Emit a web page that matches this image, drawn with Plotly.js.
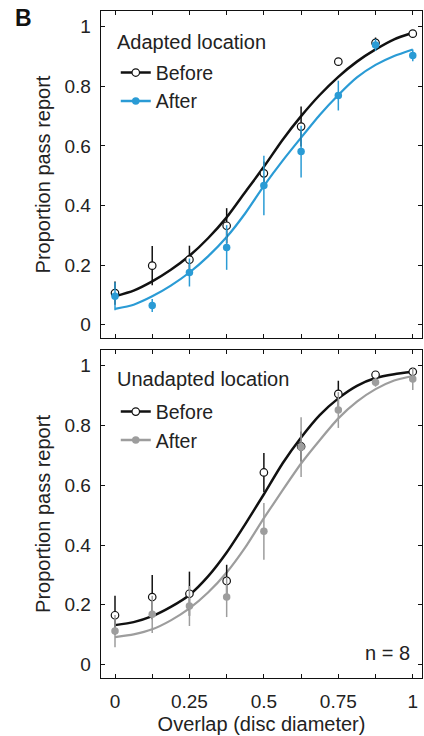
<!DOCTYPE html>
<html>
<head>
<meta charset="utf-8">
<script src="https://cdn.plot.ly/plotly-3.0.1.min.js"></script>
<style>html,body{margin:0;padding:0;background:#fff;}#chart{width:424px;height:736px;}</style>
</head>
<body>
<div id="chart"></div>
<script>
// ---- data ----
const overlap = [0, 0.125, 0.25, 0.375, 0.5, 0.625, 0.75, 0.875, 1];
const xTickVals = [0, 0.25, 0.5, 0.75, 1];
const xTickText = ['0', '0.25', '0.5', '0.75', '1'];
const yTickVals = [0, 0.2, 0.4, 0.6, 0.8, 1];
const yTickText = ['0', '0.2', '0.4', '0.6', '0.8', '1'];

// Adapted location
const adaptedBefore    = [0.106, 0.198, 0.218, 0.332, 0.508, 0.665, 0.883, 0.946, 0.977];
const adaptedBeforeErr = [0.039, 0.066, 0.047, 0.059, 0.040, 0.067, 0.010, 0.018, 0.006];
const adaptedAfter     = [0.095, 0.064, 0.175, 0.259, 0.467, 0.581, 0.769, 0.939, 0.904];
const adaptedAfterErr  = [0.047, 0.022, 0.047, 0.075, 0.100, 0.087, 0.050, 0.020, 0.020];

// Unadapted location
const unadaptedBefore    = [0.165, 0.226, 0.237, 0.280, 0.643, 0.730, 0.906, 0.970, 0.980];
const unadaptedBeforeErr = [0.065, 0.074, 0.074, 0.054, 0.065, 0.050, 0.044, 0.010, 0.010];
const unadaptedAfter     = [0.112, 0.168, 0.196, 0.226, 0.446, 0.728, 0.852, 0.945, 0.956];
const unadaptedAfterErr  = [0.054, 0.062, 0.067, 0.067, 0.095, 0.100, 0.060, 0.015, 0.037];

// fitted curves
const fitX = [0, 0.0625, 0.125, 0.1875, 0.25, 0.3125, 0.375, 0.4375, 0.5, 0.5625, 0.625, 0.6875, 0.75, 0.8125, 0.875, 0.9375, 1];
const adaptedBeforeFit   = [0.095, 0.114, 0.145, 0.184, 0.231, 0.290, 0.360, 0.445, 0.530, 0.620, 0.700, 0.771, 0.832, 0.883, 0.924, 0.958, 0.980];
const adaptedAfterFit    = [0.053, 0.067, 0.095, 0.131, 0.175, 0.229, 0.294, 0.374, 0.466, 0.550, 0.628, 0.704, 0.771, 0.830, 0.872, 0.902, 0.924];
const unadaptedBeforeFit = [0.132, 0.142, 0.162, 0.193, 0.233, 0.295, 0.375, 0.470, 0.570, 0.673, 0.760, 0.835, 0.891, 0.933, 0.959, 0.972, 0.980];
const unadaptedAfterFit  = [0.092, 0.101, 0.118, 0.148, 0.188, 0.241, 0.308, 0.392, 0.490, 0.583, 0.673, 0.751, 0.824, 0.880, 0.922, 0.951, 0.966];

const panelTitles = ['Adapted location', 'Unadapted location'];
const seriesNames = ['Before', 'After'];

// ---- style ----
const FONT = 'Liberation Sans, Arial, Helvetica, sans-serif';
const TXT = '#222';
const BLACK = '#111111';
const BLUE = '#2a9bd5';
const GRAY = '#9d9d9d';

function fitTrace(y, color, xa, ya, w) {
  return {x: fitX, y: y, xaxis: xa, yaxis: ya, mode: 'lines', line: {color: color, width: w, shape: 'spline', smoothing: 0.6},
          showlegend: false, hoverinfo: 'skip'};
}
function pointTrace(y, err, color, open, xa, ya) {
  return {x: overlap, y: y, xaxis: xa, yaxis: ya, mode: 'markers', showlegend: false,
          marker: {symbol: 'circle', size: 7.5, color: open ? '#ffffff' : color, line: {color: open ? BLACK : color, width: open ? 1.2 : 0}},
          error_y: {type: 'data', array: err, visible: true, thickness: 1.5, width: 0, color: color}};
}
function legendTrace(name, color, open, lw, legend) {
  return {x: [null], y: [null], mode: 'lines+markers', name: name, legend: legend, showlegend: true,
          line: {color: color, width: lw},
          marker: {symbol: 'circle', size: 7.5, color: open ? '#ffffff' : color, line: {color: open ? BLACK : color, width: open ? 1.2 : 0}}};
}

const data = [
  fitTrace(adaptedBeforeFit, BLACK, 'x', 'y', 2.5),
  fitTrace(adaptedAfterFit, BLUE, 'x', 'y', 2.2),
  pointTrace(adaptedBefore, adaptedBeforeErr, BLACK, true, 'x', 'y'),
  pointTrace(adaptedAfter, adaptedAfterErr, BLUE, false, 'x', 'y'),
  fitTrace(unadaptedBeforeFit, BLACK, 'x2', 'y2', 2.5),
  fitTrace(unadaptedAfterFit, GRAY, 'x2', 'y2', 2.2),
  pointTrace(unadaptedBefore, unadaptedBeforeErr, BLACK, true, 'x2', 'y2'),
  pointTrace(unadaptedAfter, unadaptedAfterErr, GRAY, false, 'x2', 'y2'),
  legendTrace(seriesNames[0], BLACK, true, 2.5, 'legend'),
  legendTrace(seriesNames[1], BLUE, false, 2.5, 'legend'),
  legendTrace(seriesNames[0], BLACK, true, 2.5, 'legend2'),
  legendTrace(seriesNames[1], GRAY, false, 2.5, 'legend2')
];

const xCommon = {
  range: [-0.047, 1.031], tickvals: xTickVals, ticktext: xTickText,
  ticks: 'inside', ticklen: 4, tickwidth: 1, tickcolor: '#111',
  minor: {dtick: 0.125, tick0: 0, ticks: 'inside', ticklen: 4, tickwidth: 1, tickcolor: '#111', showgrid: false},
  showline: true, linecolor: '#111', linewidth: 1.3, mirror: 'ticks',
  showgrid: false, zeroline: false, fixedrange: true,
  tickfont: {family: FONT, size: 19, color: TXT}, ticklabelstandoff: 6
};
const yCommon = {
  range: [-0.045, 1.053], tickvals: yTickVals, ticktext: yTickText,
  ticks: 'inside', ticklen: 4, tickwidth: 1, tickcolor: '#111',
  showline: true, linecolor: '#111', linewidth: 1.3, mirror: 'ticks',
  showgrid: false, zeroline: false, fixedrange: true,
  tickfont: {family: FONT, size: 19, color: TXT}, ticklabelstandoff: 5,
  title: {text: 'Proportion pass report', font: {family: FONT, size: 20, color: TXT}, standoff: 8}
};

const legendCommon = {
  xanchor: 'left', yanchor: 'top', bgcolor: 'rgba(0,0,0,0)', borderwidth: 0,
  font: {family: FONT, size: 19.5, color: TXT}, itemwidth: 30, tracegroupgap: 0,
  traceorder: 'normal', itemclick: false, itemdoubleclick: false
};

const layout = {
  width: 424, height: 736,
  margin: {l: 101, r: 2, t: 11, b: 58},
  paper_bgcolor: '#ffffff', plot_bgcolor: '#ffffff',
  showlegend: true,
  font: {family: FONT, color: TXT},
  xaxis: Object.assign({}, xCommon, {anchor: 'y', domain: [0, 1], showticklabels: false}),
  yaxis: Object.assign({}, yCommon, {anchor: 'x', domain: [0.5097, 1]}),
  xaxis2: Object.assign({}, xCommon, {anchor: 'y2', domain: [0, 1],
    title: {text: 'Overlap (disc diameter)', font: {family: FONT, size: 20, color: TXT}, standoff: 6}}),
  yaxis2: Object.assign({}, yCommon, {anchor: 'x2', domain: [0, 0.4918]}),
  legend: Object.assign({}, legendCommon, {x: 0.046, y: 0.9365}),
  legend2: Object.assign({}, legendCommon, {x: 0.046, y: 0.4282}),
  annotations: [
    {text: '<b>B</b>', xref: 'paper', yref: 'paper', x: -0.275, y: 1.012, xanchor: 'left', yanchor: 'top',
     showarrow: false, font: {family: FONT, size: 23, color: '#111'}},
    {text: panelTitles[0], xref: 'x domain', yref: 'y domain', x: 0.044, y: 0.906, xanchor: 'left', yanchor: 'middle',
     showarrow: false, font: {family: FONT, size: 20, color: TXT}},
    {text: panelTitles[1], xref: 'x2 domain', yref: 'y2 domain', x: 0.044, y: 0.911, xanchor: 'left', yanchor: 'middle',
     showarrow: false, font: {family: FONT, size: 20, color: TXT}},
    {text: 'n = 8', xref: 'x2 domain', yref: 'y2 domain', x: 0.969, y: 0.077, xanchor: 'right', yanchor: 'middle',
     showarrow: false, font: {family: FONT, size: 20, color: TXT}}
  ]
};

Plotly.newPlot('chart', data, layout, {staticPlot: true, displayModeBar: false});
</script>
</body>
</html>
